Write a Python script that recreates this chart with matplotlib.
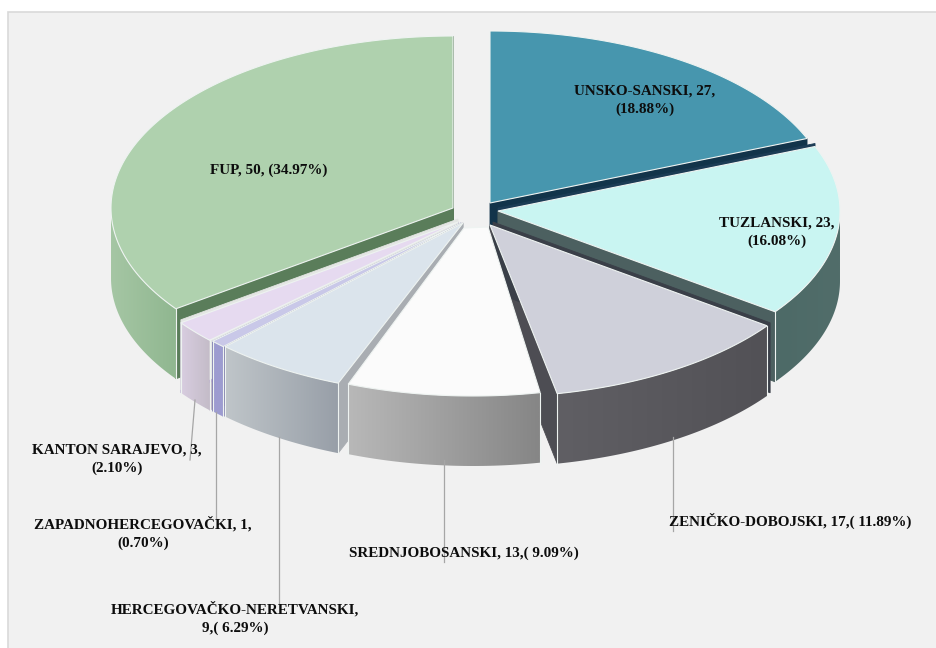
import numpy as np
import matplotlib
matplotlib.use('Agg')
from matplotlib import pyplot as plt
from matplotlib.patches import Rectangle, Polygon
from matplotlib.colors import to_rgb

# data
regions = ['UNSKO-SANSKI', 'TUZLANSKI', 'ZENIČKO-DOBOJSKI', 'SREDNJOBOSANSKI',
           'HERCEGOVAČKO-NERETVANSKI', 'ZAPADNOHERCEGOVAČKI', 'KANTON SARAJEVO', 'FUP']
counts = [27, 23, 17, 13, 9, 1, 3, 50]
percents = ['18.88', '16.08', '11.89', '9.09', '6.29', '0.70', '2.10', '34.97']

labels = ['%s, %d,\n(%s%%)' % (regions[0], counts[0], percents[0]),
          '%s, %d,\n(%s%%)' % (regions[1], counts[1], percents[1]),
          '%s, %d,( %s%%)' % (regions[2], counts[2], percents[2]),
          '%s, %d,( %s%%)' % (regions[3], counts[3], percents[3]),
          '%s,\n%d,( %s%%)' % (regions[4], counts[4], percents[4]),
          '%s, %d,\n(%s%%)' % (regions[5], counts[5], percents[5]),
          '%s, %d,\n(%s%%)' % (regions[6], counts[6], percents[6]),
          '%s, %d, (%s%%)' % (regions[7], counts[7], percents[7])]

# layout, in picture pixels
centers = [(490, 203), (498, 211), (490, 225), (473, 224),
           (463, 223), (461, 223), (458, 222), (453, 208)]
rx, ry, depth = 342, 172, 70
label_pos = [(645, 100), (777, 232), (790, 521), (464, 553),
             (235, 618), (143, 533), (117, 459), (269, 170)]
leaders = [None, None, [(673, 437), (673, 531)], [(444, 460), (444, 562)],
           [(278.5, 437), (278.5, 603)], [(216, 412), (216, 518)],
           [(195, 400), (190, 460)], None]
# the white slice narrows to a blunt tip in the reference
tips = {3: [(464, 228), (488, 227)]}
# thin strips seen along some cuts: slice, which bound, colour, shift, height
slivers = [(1, 0, '#1c3c55', (0, -3), 3), (2, 0, '#3a3f48', (3, -3), depth), (6, 1, '#e4e6e4', (0, -3), depth)]

# colours
top_col = ['#4796ae', '#c9f5f2', '#cfd0da', '#fbfbfb', '#dbe4ec', '#c9c8e8', '#e6daf0', '#afd1ae']
wall_left = ['#3a7488', '#4d6a67', '#605f64', '#b8b8b8', '#bfc5c9', '#9d9cd0', '#d8cde0', '#a5c6a4']
wall_right = ['#3a7488', '#516d6a', '#525156', '#868686', '#989fa8', '#9d9cd0', '#c4bcc8', '#90b790']
face_start = ['#2a5a70', '#33474a', '#3a3a40', '#9a9a9a', '#a9adb2', '#8988b8', '#c0b8c8', '#5a7d5a']
face_end = ['#12344a', '#4c6060', '#4d4d53', '#9a9a9a', '#a9adb2', '#7d7cb0', '#b9acd0', '#587a58']
pale = '#eef3f1'

draw_order = [0, 7, 1, 6, 5, 2, 4, 3]

plt.rcParams['font.family'] = ['Liberation Serif', 'DejaVu Serif']

fig = plt.figure(figsize=(9.36, 6.48), dpi=100, facecolor='white')
ax = fig.add_axes([0, 0, 1, 1])
ax.axis('off')
ax.add_patch(Rectangle((8, 12), 960, 670, fc='#f1f1f1', ec='#d9d9d9', lw=1.2, zorder=0))

# angles clockwise from twelve o'clock
bounds = np.cumsum([0] + counts) / sum(counts) * 2 * np.pi


def rim(center, a):
    return center[0] + rx * np.sin(a), center[1] - ry * np.cos(a)


def cut_face(center, a, color, z, h=depth):
    x, y = rim(center, a)
    ax.fill([center[0], x, x, center[0]], [center[1], y, y + h, center[1] + h],
            fc=color, ec=color, lw=0.6, zorder=z)


z = 1
for i in draw_order:
    c = centers[i]
    a0, a1 = bounds[i], bounds[i + 1]
    # faces of the cuts, the white slice shows none
    if i != 3:
        cut_face(c, a0, face_start[i], z)
        cut_face(c, a1, face_end[i], z)
    for s, b, col, shift, h in slivers:
        if s == i:
            cut_face((c[0] + shift[0], c[1] + shift[1]), bounds[i + b], col, z, h)
    # outer wall, front half only, gradient clipped to its outline
    w0, w1 = max(a0, np.pi / 2), min(a1, 3 * np.pi / 2)
    if w1 > w0:
        t = np.linspace(w0, w1, 80)
        xs, ys = rim(c, t)
        outline = np.c_[np.r_[xs, xs[::-1]], np.r_[ys, ys[::-1] + depth]]
        grad = np.linspace(to_rgb(wall_left[i]), to_rgb(wall_right[i]), 64).reshape(1, 64, 3)
        im = ax.imshow(grad, extent=[xs.min(), xs.max(), ys.max() + depth, ys.min()],
                       aspect='auto', zorder=z, interpolation='bilinear')
        im.set_clip_path(Polygon(outline, closed=True, transform=ax.transData))
        # light edge where the wall meets a cut
        if w0 == a0:
            ax.plot([xs[0], xs[0]], [ys[0], ys[0] + depth], color=pale, lw=0.8, zorder=z)
        if w1 == a1:
            ax.plot([xs[-1], xs[-1]], [ys[-1], ys[-1] + depth], color=pale, lw=0.8, zorder=z)
    # top
    t = np.linspace(a0, a1, 120)
    xs, ys = rim(c, t)
    tip = tips.get(i, [c])
    ax.fill([p[0] for p in tip] + list(xs), [p[1] for p in tip] + list(ys),
            fc=top_col[i], ec=pale, lw=0.8, zorder=z)
    z += 1

for seg in leaders:
    if seg is not None:
        ax.plot([seg[0][0], seg[1][0]], [seg[0][1], seg[1][1]], color='#a6a6a6', lw=0.9, zorder=20)

for lab, pos in zip(labels, label_pos):
    ax.text(pos[0], pos[1], lab, ha='center', va='center', fontsize=10.9, fontweight='bold',
            color='#0d0d0d', linespacing=1.45, zorder=30)

ax.set_xlim(0, 936)
ax.set_ylim(648, 0)

fig.savefig('out.png', dpi=100)
